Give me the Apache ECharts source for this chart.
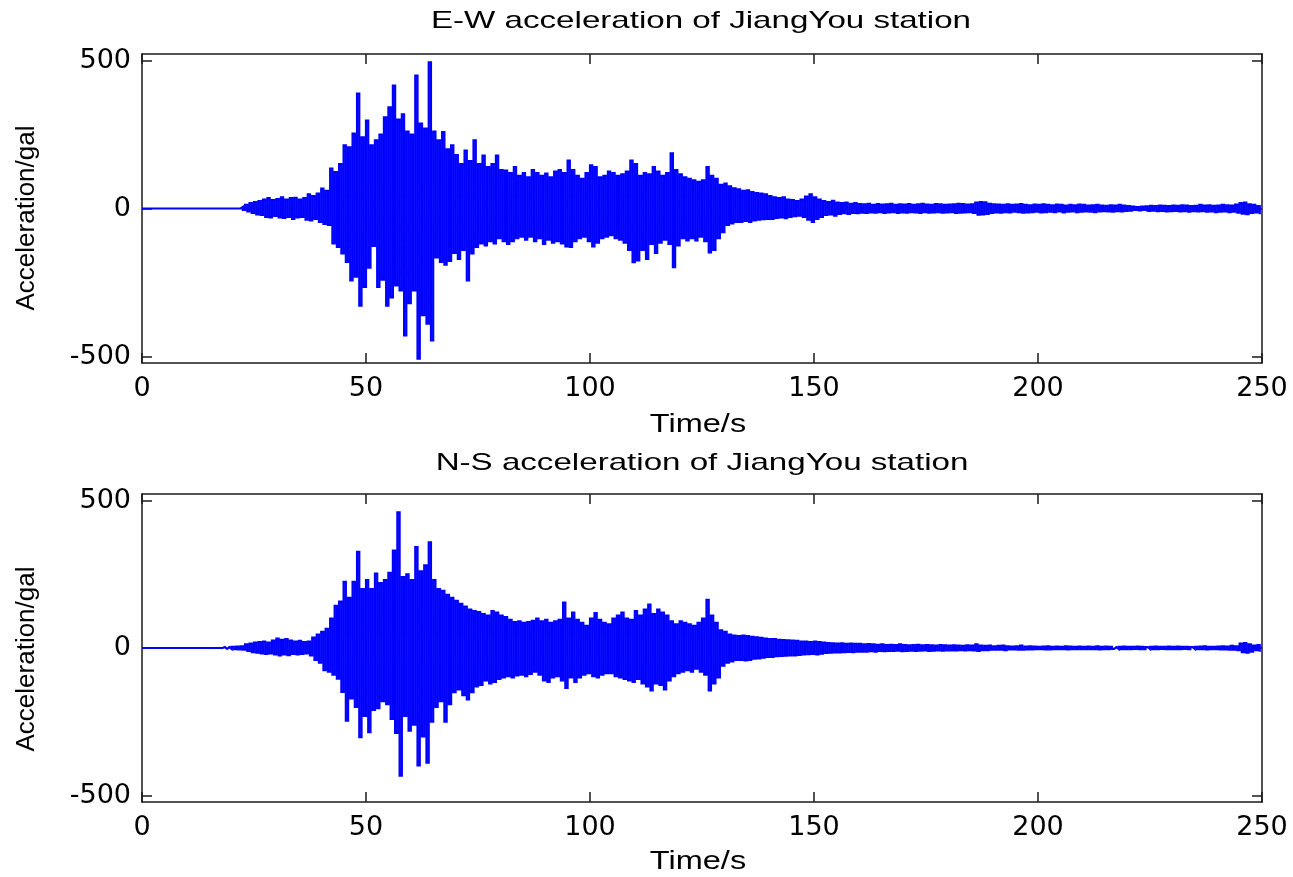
<!DOCTYPE html>
<html>
<head>
<meta charset="utf-8">
<title>JiangYou station acceleration records</title>
<script src="https://cdn.jsdelivr.net/npm/echarts@6/dist/echarts.min.js"></script>
<style>
  html, body { margin: 0; padding: 0; background: #ffffff; }
  #chart { width: 1293px; height: 877px; }
</style>
</head>
<body>
<div id="chart"></div>
<script>
// Time axis ticks (s) and acceleration ticks (gal)
const xTicks = [0, 50, 100, 150, 200, 250];
const yTicks = [-500, 0, 500];

// Per-second positive and negative peaks (gal), one entry per second, 0..249 s
// E-W component
const ewUpper = [
  0,0,0,0,0,0,0,0,0,0, 0,0,0,0,0,0,0,0,0,0, 0,0,
  5,12,18,22,25,30,35,28,32,38, 30,35,36,30,35,48,42,50,67,60,
  135,123,150,213,207,253,388,240,297,213, 230,250,308,342,415,300,318,260,250,449,
  287,270,494,260,230,258,200,213,180,150, 196,160,230,150,179,140,150,179,
  130,128,120,140,110,120,105,130,120,110, 118,105,125,130,120,162,130,110,100,120,
  146,140,105,110,125,120,110,115,125,162, 150,110,120,115,140,125,110,120,186,130,
  115,105,100,95,90,95,140,110,100,80,
  84,75,68,65,60,61,55,52,50,48, 42,38,35,38,30,28,25,30,40,48, 38,30,25,22,26,20,18,20,16,18,
  15,14,16,12,15,13,14,16,12,14, 13,15,12,14,16,13,12,15,14,12, 13,14,16,15,13,14,20,22,21,16,
  14,13,12,14,12,13,15,12,11,13, 12,14,12,11,13,12,10,12,11,13, 12,10,11,12,10,9,11,10,12,10,
  8,6,5,6,7,9,8,10,9,8, 10,9,11,10,8,9,12,10,11,9, 10,12,11,10,13,18,20,14,12,8
];
const ewLower = [
  0,0,0,0,0,0,0,0,0,0, 0,0,0,0,0,0,0,0,0,0, 0,0,
  -5,-10,-15,-20,-22,-28,-30,-25,-30,-32, -28,-35,-30,-28,-38,-40,-35,-45,-52,-55,
  -118,-130,-152,-180,-243,-230,-328,-265,-200,-126, -265,-240,-328,-300,-260,-277,-429,-320,-277,-507,
  -360,-389,-446,-165,-180,-190,-177,-150,-170,-140, -243,-152,-130,-118,-125,-110,-118,-100,
  -110,-120,-110,-100,-95,-105,-95,-110,-100,-120, -105,-115,-110,-118,-128,-130,-110,-100,-95,-110,
  -128,-115,-100,-95,-90,-100,-105,-115,-140,-181, -175,-140,-170,-120,-150,-115,-105,-120,-198,-125,
  -100,-108,-100,-108,-95,-110,-148,-140,-100,-80,
  -55,-50,-45,-45,-42,-45,-40,-38,-36,-35, -35,-32,-30,-33,-28,-26,-24,-28,-38,-45, -35,-28,-22,-20,-24,-18,-16,-18,-15,-16,
  -14,-15,-13,-14,-12,-15,-13,-12,-15,-13, -14,-12,-13,-15,-12,-14,-13,-12,-14,-13, -12,-15,-14,-13,-12,-15,-21,-20,-18,-15,
  -13,-14,-12,-13,-11,-12,-14,-13,-12,-11, -13,-12,-11,-12,-10,-13,-11,-10,-12,-11, -10,-11,-12,-10,-9,-10,-11,-9,-10,-8,
  -7,-5,-6,-5,-8,-7,-9,-8,-10,-9, -8,-10,-9,-11,-9,-10,-9,-11,-10,-12, -11,-10,-12,-11,-14,-17,-19,-15,-13,-16
];

// N-S component
const nsUpper = [
  0,0,0,0,0,0,0,0,0,0, 0,0,0,0,0,0,0,0,
  3,3,4,5,6,12,15,18,20,22, 18,25,32,28,30,25,22,24,20,22, 35,45,55,65,
  100,143,157,224,170,224,326,200,230,200, 252,220,230,255,330,460,240,250,230,342,
  260,280,358,230,200,194,180,170,160,150, 140,130,125,122,115,110,125,120,
  110,105,95,88,90,85,88,92,100,90, 95,85,90,95,154,100,120,95,85,75,
  100,118,95,85,80,100,110,120,100,95, 125,110,130,147,115,130,120,110,90,80,
  90,85,80,75,85,100,163,110,85,60,
  55,45,42,40,42,40,38,36,34,32, 30,30,28,27,26,25,24,22,22,20, 22,20,18,17,16,15,16,14,15,14,
  14,12,13,12,11,12,10,11,10,12, 10,9,10,11,9,10,9,8,10,9, 8,9,8,7,9,8,12,8,7,8,
  6,7,8,6,5,6,8,5,6,5, 4,5,6,4,5,4,6,5,4,5, 4,5,4,6,4,5,4,3,4,5,
  4,4,5,4,3,4,5,4,4,5, 4,5,4,4,3,4,5,6,4,4, 5,6,5,7,6,15,17,12,8,10
];
const nsLower = [
  0,0,0,0,0,0,0,0,0,0, 0,0,0,0,0,0,0,0,
  -3,-3,-4,-5,-6,-10,-14,-16,-18,-20, -18,-22,-25,-22,-24,-20,-22,-20,-18,-25, -40,-50,-75,-80,
  -90,-104,-149,-246,-171,-200,-302,-230,-285,-210, -204,-180,-190,-240,-288,-433,-230,-280,-260,-398,
  -300,-389,-250,-200,-180,-250,-190,-150,-140,-160, -174,-150,-130,-125,-110,-120,-115,-105,
  -100,-95,-100,-93,-90,-95,-88,-80,-90,-110, -115,-100,-95,-110,-135,-100,-115,-100,-90,-85,
  -95,-100,-90,-85,-85,-95,-100,-105,-110,-115, -105,-120,-130,-144,-120,-125,-140,-110,-95,-85,
  -80,-75,-80,-70,-80,-90,-144,-120,-100,-60,
  -50,-45,-40,-40,-42,-40,-36,-35,-33,-30, -30,-28,-27,-26,-25,-25,-23,-22,-21,-20, -22,-19,-17,-16,-15,-15,-14,-13,-14,-12,
  -12,-12,-11,-12,-10,-11,-10,-10,-9,-11, -10,-9,-10,-9,-8,-10,-9,-8,-9,-8, -8,-8,-7,-8,-7,-8,-10,-7,-7,-6,
  -6,-6,-7,-5,-5,-6,-6,-5,-5,-4, -4,-5,-5,-4,-4,-4,-5,-4,-4,-4, -4,-4,-4,-5,-4,-4,-3,-3,-4,-4,
  -4,-3,-4,-4,-3,-4,-4,-3,-4,-4, -4,-4,-3,-4,-3,-4,-4,-5,-4,-4, -5,-5,-6,-6,-7,-14,-16,-12,-7,-9
];

// Turn the per-second peaks into an alternating trace: positive peak early
// in each second, negative peak late in it.
function trace(upper, lower) {
  if (upper.length !== 250 || lower.length !== 250) {
    throw new Error('envelope length mismatch: ' + upper.length + ' / ' + lower.length);
  }
  const pts = [[0, 0]];
  for (let i = 0; i < upper.length; i++) {
    pts.push([i + 0.25, upper[i]]);
    pts.push([i + 0.75, lower[i]]);
  }
  return pts;
}

const frame = { color: '#1a1a1a', width: 1.5 };
const tickFont = { fontFamily: 'DejaVu Sans', fontSize: 27, color: '#000' };
const textFont = '"Liberation Sans", Arial, sans-serif';

function xAxes(g) {
  const base = {
    gridIndex: g, type: 'value', min: 0, max: 250, interval: 50,
    axisLine: { show: true, onZero: false, lineStyle: frame },
    axisTick: { show: true, inside: true, length: 10, lineStyle: frame },
    splitLine: { show: false }
  };
  return [
    Object.assign({}, base, { position: 'bottom',
      axisLabel: Object.assign({ show: true, margin: 12 }, tickFont) }),
    Object.assign({}, base, { position: 'top', axisLabel: { show: false } })
  ];
}

function yAxes(g) {
  const base = {
    gridIndex: g, type: 'value', min: -522, max: 522,
    axisLine: { show: true, onZero: false, lineStyle: frame },
    axisTick: { show: true, inside: true, length: 10, lineStyle: frame, customValues: yTicks },
    splitLine: { show: false }
  };
  return [
    Object.assign({}, base, { position: 'left',
      axisLabel: Object.assign({ show: true, margin: 11, customValues: yTicks }, tickFont) }),
    Object.assign({}, base, { position: 'right', axisLabel: { show: false, customValues: yTicks } })
  ];
}

function label(text, x, y, opts) {
  return Object.assign({
    type: 'text', x: x, y: y, silent: true,
    style: {
      text: text, font: '24px ' + textFont, fill: '#000',
      align: 'center', verticalAlign: 'middle',
      textAlign: 'center', textVerticalAlign: 'middle'
    }
  }, opts || {});
}

function sized(el, size) {
  el.style.font = size + 'px ' + textFont;
  return el;
}

// Dense oscillation drawn as a square wave: each swing becomes a vertical stroke
const waveStyle = {
  type: 'line', step: 'middle',
  showSymbol: false, symbol: 'none', sampling: null, silent: true,
  lineStyle: { color: '#0000ff', width: 2.2, join: 'miter' }
};

const chart = echarts.init(document.getElementById('chart'), null, { renderer: 'canvas' });

chart.setOption({
  animation: false,
  backgroundColor: '#ffffff',
  grid: [
    { left: 142, width: 1120, top: 54, height: 309 },
    { left: 142, width: 1120, top: 494, height: 308 }
  ],
  xAxis: xAxes(0).concat(xAxes(1)),
  yAxis: yAxes(0).concat(yAxes(1)),
  graphic: [
    label('E-W acceleration of JiangYou station', 701, 21, { scaleX: 1.38 }),
    label('N-S acceleration of JiangYou station', 702, 463, { scaleX: 1.38 }),
    sized(label('Time/s', 698, 425, { scaleX: 1.25 }), 26),
    sized(label('Time/s', 698, 862, { scaleX: 1.25 }), 26),
    sized(label('Acceleration/gal', 27, 218, { rotation: Math.PI / 2 }), 26),
    sized(label('Acceleration/gal', 27, 659, { rotation: Math.PI / 2 }), 26)
  ],
  series: [
    Object.assign({ name: 'E-W', xAxisIndex: 0, yAxisIndex: 0, data: trace(ewUpper, ewLower) }, waveStyle),
    Object.assign({ name: 'N-S', xAxisIndex: 2, yAxisIndex: 2, data: trace(nsUpper, nsLower) }, waveStyle)
  ]
});
</script>
</body>
</html>
